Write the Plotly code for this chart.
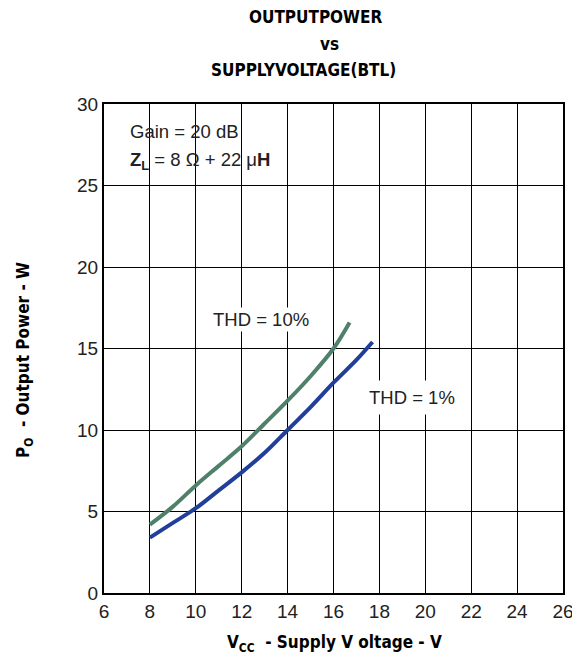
import plotly.graph_objects as go

# 读图得到的数据
vcc_thd10 = [8.0, 9.0, 10.0, 11.0, 12.0, 13.0, 14.0, 15.0, 16.0, 16.7]
po_thd10 = [4.2, 5.3, 6.6, 7.8, 9.0, 10.4, 11.8, 13.3, 15.0, 16.6]
vcc_thd1 = [8.0, 9.0, 10.0, 11.0, 12.0, 13.0, 14.0, 15.0, 16.0, 17.0, 17.7]
po_thd1 = [3.4, 4.3, 5.2, 6.3, 7.4, 8.6, 10.0, 11.4, 12.9, 14.3, 15.4]

x_ticks = [6, 8, 10, 12, 14, 16, 18, 20, 22, 24, 26]
y_ticks = [0, 5, 10, 15, 20, 25, 30]

COND = "Liberation Sans Narrow, DejaVu Sans Condensed, Arial Narrow, sans-serif"
REG = "Liberation Sans, Arial, sans-serif"

# 页面 body 有 8px 的默认边距
W, H = 572, 651
L, R, T, B = 96, 17, 96, 66
PW, PH = W - L - R, H - T - B


def px(x, y):
    # 窗口像素坐标 -> paper 坐标
    return (x - 8 - L) / PW, (H - B - (y - 8)) / PH


fig = go.Figure()
fig.add_trace(go.Scatter(x=vcc_thd10, y=po_thd10, mode="lines",
                         line=dict(color="#4f8069", width=4, shape="spline"),
                         showlegend=False))
fig.add_trace(go.Scatter(x=vcc_thd1, y=po_thd1, mode="lines",
                         line=dict(color="#213f98", width=4, shape="spline"),
                         showlegend=False))

axis_common = dict(showgrid=True, gridcolor="black", gridwidth=1, showline=True,
                   linecolor="black", linewidth=2, mirror=True, zeroline=False,
                   ticks="", automargin=False,
                   tickfont=dict(family=REG, size=19, color="#222"))
fig.update_xaxes(range=[6, 26], tickvals=x_ticks, **axis_common)
fig.update_yaxes(range=[0, 30], tickvals=y_ticks, **axis_common)

title_font = dict(family=COND, size=17, color="black")
for x, y, text in [(315, 17, "<b>OUTPUTPOWER</b>"),
                   (329, 44, "<b>vs</b>"),
                   (303, 70, "<b>SUPPLYVOLTAGE(BTL)</b>")]:
    ax, ay = px(x, y)
    fig.add_annotation(x=ax, y=ay, xref="paper", yref="paper", text=text,
                       showarrow=False, font=title_font, yanchor="middle")

# 轴标题
ax, ay = px(334, 643)
fig.add_annotation(x=ax, y=ay, xref="paper", yref="paper", showarrow=False,
                   text="<b>V<sub>CC</sub>  - Supply V oltage - V</b>",
                   font=title_font, yanchor="middle")
ax, ay = px(24, 360)
fig.add_annotation(x=ax, y=ay, xref="paper", yref="paper", showarrow=False,
                   text="<b>P<sub>O</sub>  - Output Power - W</b>", textangle=-90,
                   font=title_font, xanchor="center", yanchor="middle")

fig.add_annotation(x=7.05, y=28.3, text="Gain = 20 dB", xanchor="left",
                   showarrow=False, font=dict(family=REG, size=18.5, color="#222"))
fig.add_annotation(x=7.05, y=26.5, xanchor="left", showarrow=False,
                   text="<b>Z<sub>L</sub></b> = 8 Ω + 22 μ<b>H</b>",
                   font=dict(family=REG, size=18.5, color="#222"))
fig.add_annotation(x=12.85, y=16.8, text="THD = 10%", showarrow=False,
                   bgcolor="white", font=dict(family=REG, size=18.5, color="#222"))
fig.add_annotation(x=19.4, y=12.0, text="THD = 1%", showarrow=False,
                   bgcolor="white", borderpad=6,
                   font=dict(family=REG, size=18.5, color="#222"))

fig.update_layout(width=W, height=H, plot_bgcolor="white", paper_bgcolor="white",
                  margin=dict(l=L, r=R, t=T, b=B))

fig.write_html("out.html")
